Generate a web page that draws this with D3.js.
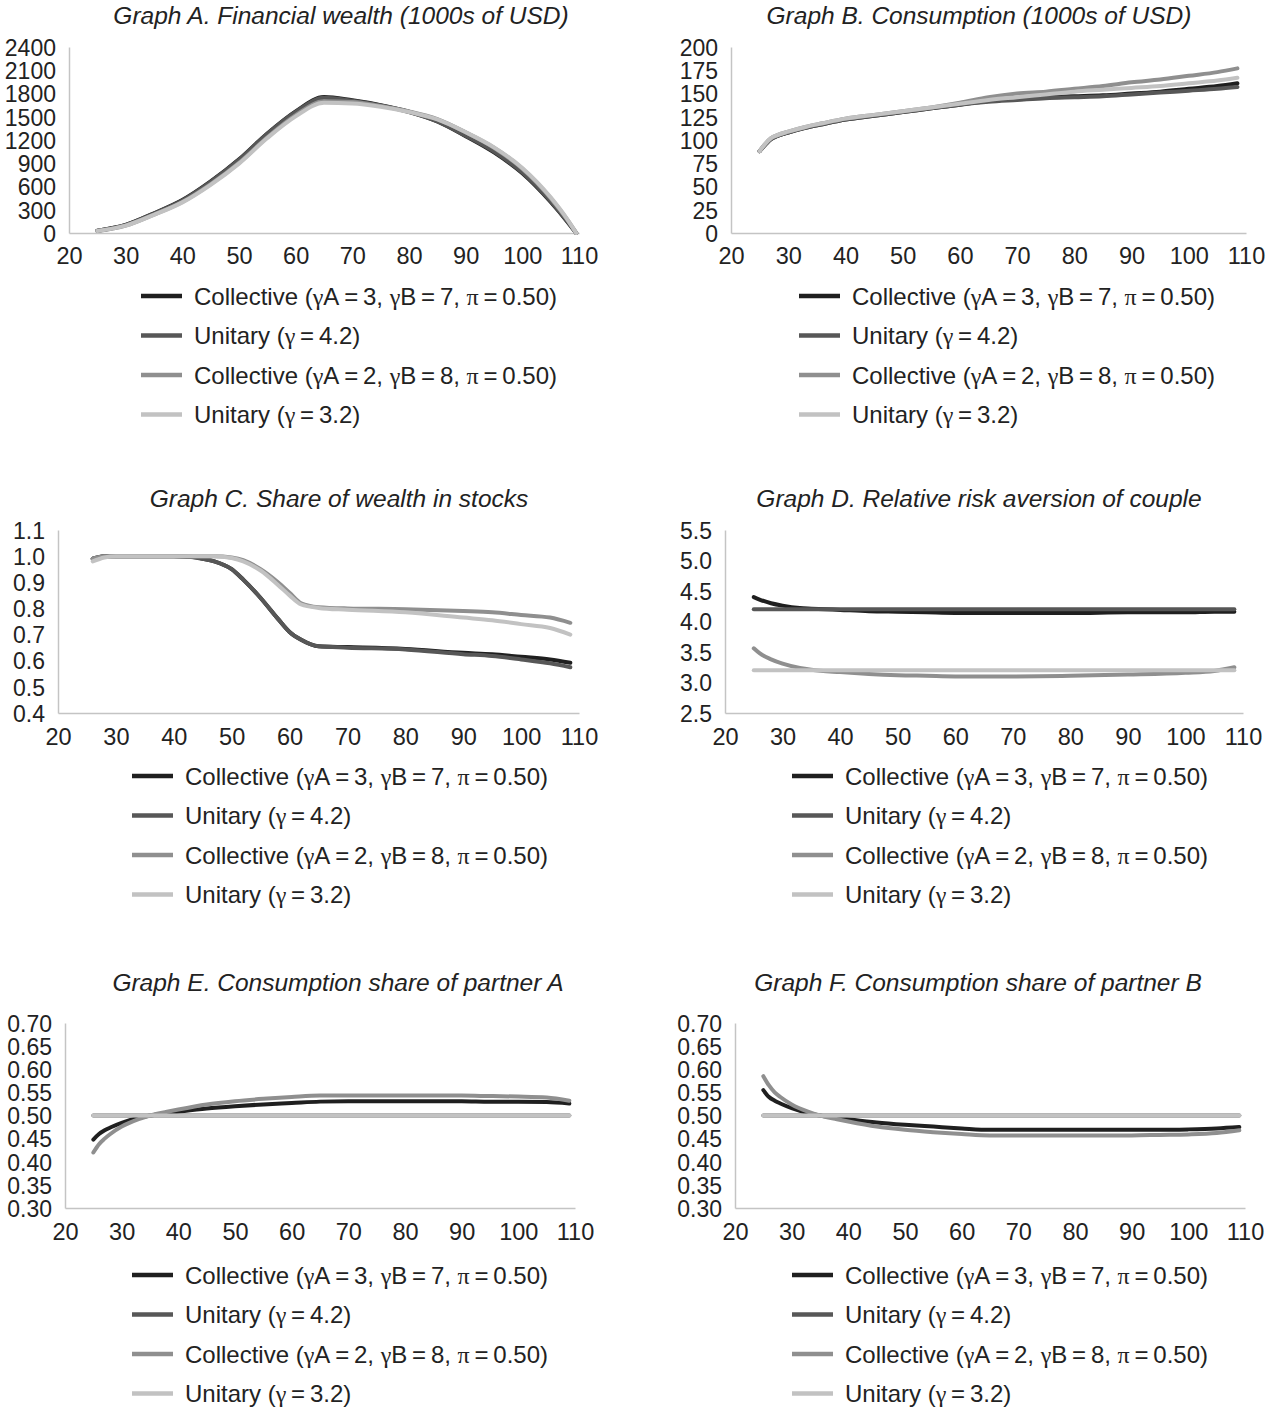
<!DOCTYPE html>
<html><head><meta charset="utf-8">
<script src="https://cdn.jsdelivr.net/npm/d3@7"></script>
<style>body{margin:0;background:#fff}svg{display:block}</style>
</head><body>
<svg id="chart" width="1271" height="1408"></svg>
<script>
// ---------------- DATA ----------------
const xTicks = [20, 30, 40, 50, 60, 70, 80, 90, 100, 110];
const seriesNames = [
  "Collective (γA\u2009=\u20093, γB\u2009=\u20097, π\u2009=\u20090.50)",
  "Unitary (γ\u2009=\u20094.2)",
  "Collective (γA\u2009=\u20092, γB\u2009=\u20098, π\u2009=\u20090.50)",
  "Unitary (γ\u2009=\u20093.2)"
];
const seriesColors = ["#1f1f1f", "#575757", "#8f8f8f", "#c2c2c2"];

// Graph A: financial wealth
const yTicksA = [0, 300, 600, 900, 1200, 1500, 1800, 2100, 2400];
const agesA = [25, 30, 35, 40, 45, 50, 55, 60, 65, 70, 75, 80, 85, 90, 95, 100, 105, 108, 109.5];
const wealthColl37 = [30, 105, 255, 425, 665, 950, 1285, 1570, 1755, 1712, 1650, 1565, 1440, 1250, 1040, 770, 400, 140, 0];
const wealthUni42  = [30, 105, 252, 420, 660, 945, 1280, 1562, 1745, 1706, 1645, 1560, 1440, 1255, 1050, 780, 410, 145, 0];
const wealthColl28 = [25, 95, 238, 400, 630, 905, 1235, 1520, 1700, 1690, 1640, 1570, 1470, 1300, 1100, 830, 450, 165, 0];
const wealthUni32  = [25, 95, 234, 395, 622, 895, 1225, 1505, 1680, 1672, 1630, 1562, 1465, 1300, 1105, 840, 460, 170, 0];

// Graph B: consumption
const yTicksB = [0, 25, 50, 75, 100, 125, 150, 175, 200];
const agesB = [25, 26, 27, 28, 30, 33, 36, 40, 45, 50, 55, 60, 65, 70, 75, 80, 85, 90, 95, 100, 105, 108.5];
const consColl37 = [88, 95, 101, 104, 108, 113, 117, 122, 126, 130, 134, 138, 142, 144, 146, 147, 148, 150, 152, 155, 158, 161];
const consUni42  = [88, 95, 101, 104, 108, 113, 117, 122, 126, 130, 134, 138, 141, 143, 145, 146, 147, 149, 151, 153, 155, 157];
const consColl28 = [88, 96, 102, 105, 109, 114, 118, 123, 127, 131, 135, 140, 146, 150, 152, 155, 158, 162, 165, 169, 173, 177];
const consUni32  = [88, 96, 102, 105, 109, 114, 118, 123, 127, 131, 135, 139, 143, 146, 149, 152, 154, 156, 158, 161, 164, 167];

// Graph C: share of wealth in stocks
const yTicksC = [0.4, 0.5, 0.6, 0.7, 0.8, 0.9, 1.0, 1.1];
const agesC = [26, 28, 30, 35, 40, 43, 45, 47, 50, 52, 55, 58, 60, 62, 65, 70, 80, 90, 95, 100, 105, 108.5];
const stockColl37 = [0.99, 1.0, 1.0, 1.0, 1.0, 0.998, 0.99, 0.98, 0.95, 0.91, 0.84, 0.76, 0.71, 0.68, 0.655, 0.652, 0.645, 0.63, 0.625, 0.615, 0.605, 0.592];
const stockUni42  = [0.99, 1.0, 1.0, 1.0, 1.0, 0.997, 0.99, 0.98, 0.95, 0.91, 0.84, 0.76, 0.71, 0.68, 0.655, 0.65, 0.643, 0.625, 0.618, 0.605, 0.59, 0.575];
const stockColl28 = [0.99, 1.0, 1.0, 1.0, 1.0, 1.0, 1.0, 1.0, 0.995, 0.985, 0.95, 0.9, 0.86, 0.82, 0.805, 0.8, 0.797, 0.79, 0.785, 0.775, 0.765, 0.745];
const stockUni32  = [0.98, 0.995, 1.0, 1.0, 1.0, 1.0, 1.0, 1.0, 0.993, 0.98, 0.945, 0.89, 0.85, 0.815, 0.802, 0.795, 0.785, 0.765, 0.755, 0.74, 0.725, 0.70];

// Graph D: relative risk aversion of couple
const yTicksD = [2.5, 3.0, 3.5, 4.0, 4.5, 5.0, 5.5];
const agesD = [25, 26, 28, 30, 33, 35, 40, 45, 50, 55, 60, 70, 80, 90, 100, 105, 108.5];
const rraColl37 = [4.40, 4.36, 4.30, 4.26, 4.22, 4.21, 4.19, 4.17, 4.16, 4.15, 4.14, 4.14, 4.14, 4.15, 4.15, 4.16, 4.16];
const rraUni42  = [4.2, 4.2, 4.2, 4.2, 4.2, 4.2, 4.2, 4.2, 4.2, 4.2, 4.2, 4.2, 4.2, 4.2, 4.2, 4.2, 4.2];
const rraColl28 = [3.56, 3.48, 3.38, 3.31, 3.24, 3.21, 3.17, 3.14, 3.12, 3.11, 3.10, 3.10, 3.11, 3.13, 3.16, 3.19, 3.25];
const rraUni32  = [3.2, 3.2, 3.2, 3.2, 3.2, 3.2, 3.2, 3.2, 3.2, 3.2, 3.2, 3.2, 3.2, 3.2, 3.2, 3.2, 3.2];

// Graph E / F: consumption shares
const yTicksE = [0.30, 0.35, 0.40, 0.45, 0.50, 0.55, 0.60, 0.65, 0.70];
const agesE = [25, 26, 27, 28, 30, 33, 35, 38, 40, 45, 50, 55, 60, 65, 70, 80, 90, 95, 100, 105, 109];
const shareAColl37 = [0.448, 0.460, 0.468, 0.474, 0.484, 0.495, 0.500, 0.505, 0.508, 0.515, 0.520, 0.524, 0.527, 0.530, 0.531, 0.531, 0.531, 0.530, 0.530, 0.529, 0.526];
const shareAUni42  = [0.5, 0.5, 0.5, 0.5, 0.5, 0.5, 0.5, 0.5, 0.5, 0.5, 0.5, 0.5, 0.5, 0.5, 0.5, 0.5, 0.5, 0.5, 0.5, 0.5, 0.5];
const shareAColl28 = [0.420, 0.438, 0.450, 0.460, 0.476, 0.492, 0.500, 0.508, 0.513, 0.524, 0.531, 0.536, 0.540, 0.543, 0.543, 0.543, 0.543, 0.542, 0.541, 0.539, 0.532];
const shareAUni32  = [0.5, 0.5, 0.5, 0.5, 0.5, 0.5, 0.5, 0.5, 0.5, 0.5, 0.5, 0.5, 0.5, 0.5, 0.5, 0.5, 0.5, 0.5, 0.5, 0.5, 0.5];
const shareBColl37 = [0.555, 0.540, 0.532, 0.526, 0.516, 0.505, 0.500, 0.495, 0.492, 0.485, 0.480, 0.476, 0.472, 0.469, 0.469, 0.469, 0.469, 0.469, 0.470, 0.472, 0.475];
const shareBUni42  = [0.5, 0.5, 0.5, 0.5, 0.5, 0.5, 0.5, 0.5, 0.5, 0.5, 0.5, 0.5, 0.5, 0.5, 0.5, 0.5, 0.5, 0.5, 0.5, 0.5, 0.5];
const shareBColl28 = [0.585, 0.565, 0.550, 0.540, 0.524, 0.508, 0.500, 0.492, 0.487, 0.476, 0.469, 0.464, 0.460, 0.457, 0.457, 0.457, 0.457, 0.458, 0.459, 0.462, 0.468];
const shareBUni32  = [0.5, 0.5, 0.5, 0.5, 0.5, 0.5, 0.5, 0.5, 0.5, 0.5, 0.5, 0.5, 0.5, 0.5, 0.5, 0.5, 0.5, 0.5, 0.5, 0.5, 0.5];

// ---------------- LAYOUT ----------------
const panels = [
  {title: "Graph A. Financial wealth (1000s of USD)", ages: agesA, series: [wealthColl37, wealthUni42, wealthColl28, wealthUni32],
   yTicks: yTicksA, fmt: d3.format("d"), x0: 69, x1: 579, yT: 47, yB: 233, titleX: 341, titleY: 15, xLabY: 256,
   legX: 141, legY: 296},
  {title: "Graph B. Consumption (1000s of USD)", ages: agesB, series: [consColl37, consUni42, consColl28, consUni32],
   yTicks: yTicksB, fmt: d3.format("d"), x0: 731, x1: 1246, yT: 47, yB: 233, titleX: 979, titleY: 15, xLabY: 256,
   legX: 799, legY: 296},
  {title: "Graph C. Share of wealth in stocks", ages: agesC, series: [stockColl37, stockUni42, stockColl28, stockUni32],
   yTicks: yTicksC, fmt: d3.format(".1f"), x0: 58, x1: 579, yT: 530, yB: 713, titleX: 339, titleY: 498, xLabY: 737,
   legX: 132, legY: 776},
  {title: "Graph D. Relative risk aversion of couple", ages: agesD, series: [rraColl37, rraUni42, rraColl28, rraUni32],
   yTicks: yTicksD, fmt: d3.format(".1f"), x0: 725, x1: 1243, yT: 530, yB: 713, titleX: 979, titleY: 498, xLabY: 737,
   legX: 792, legY: 776},
  {title: "Graph E. Consumption share of partner A", ages: agesE, series: [shareAColl37, shareAUni42, shareAColl28, shareAUni32],
   yTicks: yTicksE, fmt: d3.format(".2f"), x0: 65, x1: 575, yT: 1023, yB: 1208, titleX: 338, titleY: 982, xLabY: 1232,
   legX: 132, legY: 1275},
  {title: "Graph F. Consumption share of partner B", ages: agesE, series: [shareBColl37, shareBUni42, shareBColl28, shareBUni32],
   yTicks: yTicksE, fmt: d3.format(".2f"), x0: 735, x1: 1245, yT: 1023, yB: 1208, titleX: 978, titleY: 982, xLabY: 1232,
   legX: 792, legY: 1275}
];

const svg = d3.select("#chart");
const FONT = "'Liberation Sans', Arial, Helvetica, sans-serif";
const TXT = "#222";
const AXIS = "#c4c4c4";

function richText(sel, str) {
  str.split(/([γπ])/).forEach(part => {
    if (!part) return;
    const t = sel.append("tspan").text(part);
    if (part === "γ" || part === "π") t.attr("font-family", "'Liberation Serif', 'DejaVu Serif', serif");
  });
}

panels.forEach(p => {
  const g = svg.append("g");
  const x = d3.scaleLinear().domain([20, 110]).range([p.x0, p.x1]);
  const y = d3.scaleLinear().domain([p.yTicks[0], p.yTicks[p.yTicks.length - 1]]).range([p.yB, p.yT]);

  // title
  g.append("text").attr("x", p.titleX).attr("y", p.titleY).attr("text-anchor", "middle")
    .attr("dominant-baseline", "central").attr("font-family", FONT).attr("font-style", "italic")
    .attr("font-size", 24.5).attr("fill", TXT).text(p.title);

  // y axis
  const ya = g.append("g").attr("transform", `translate(${p.x0},0)`)
    .call(d3.axisLeft(y).tickValues(p.yTicks).tickFormat(p.fmt).tickSize(0).tickPadding(13));
  ya.select(".domain").attr("stroke", AXIS).attr("stroke-width", 1.5);
  ya.selectAll("text").attr("font-family", FONT).attr("font-size", 23).attr("fill", TXT).attr("dy", "0.36em");

  // x axis
  const xa = g.append("g").attr("transform", `translate(0,${p.yB})`)
    .call(d3.axisBottom(x).tickValues(xTicks).tickFormat(d3.format("d")).tickSize(0).tickPadding(0));
  xa.select(".domain").attr("stroke", AXIS).attr("stroke-width", 1.5);
  xa.selectAll("text").attr("font-family", FONT).attr("font-size", 23.5).attr("fill", TXT)
    .attr("y", p.xLabY - p.yB).attr("dy", "0.36em");

  // lines
  const line = d3.line().x(d => x(d[0])).y(d => y(d[1])).curve(d3.curveMonotoneX);
  p.series.forEach((vals, i) => {
    const pts = p.ages.map((a, k) => [a, vals[k]]);
    g.append("path").attr("d", line(pts)).attr("fill", "none")
      .attr("stroke", seriesColors[i]).attr("stroke-width", 4).attr("stroke-linecap", "round")
      .attr("stroke-linejoin", "round");
  });

  // legend
  seriesNames.forEach((name, i) => {
    const ly = p.legY + i * 39.5;
    g.append("line").attr("x1", p.legX).attr("x2", p.legX + 41).attr("y1", ly).attr("y2", ly)
      .attr("stroke", seriesColors[i]).attr("stroke-width", 4.5);
    const t = g.append("text").attr("x", p.legX + 53).attr("y", ly).attr("dy", "0.36em")
      .attr("font-family", FONT).attr("font-size", 24).attr("fill", TXT);
    richText(t, name);
  });
});
</script>
</body></html>
